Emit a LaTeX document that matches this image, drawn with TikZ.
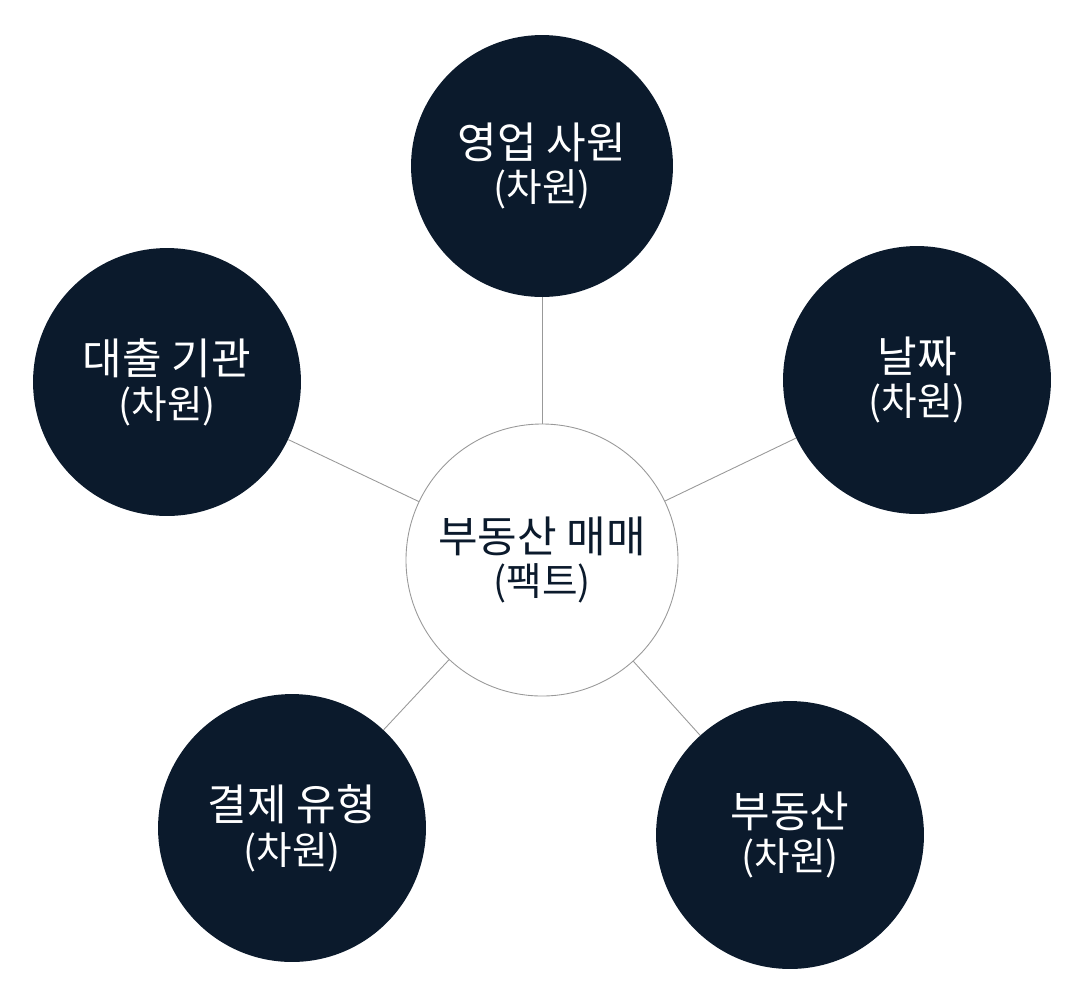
\documentclass[tikz,border=0pt]{standalone}
\usepackage{fontspec}
\newfontfamily\kr{Noto Sans CJK KR}
\definecolor{navy}{HTML}{0B1A2C}
\newcommand{\ttl}[2]{#1\\{\fontsize{22}{25}\selectfont #2}}
\begin{document}
\begin{tikzpicture}[x=0.02cm,y=-0.02cm,
  dim/.style={circle,fill=navy,draw=none,minimum size=#1*0.04cm,inner sep=0pt,text=white,align=center,font=\kr\fontsize{24.5}{25}\selectfont},
  fact/.style={circle,fill=white,draw=gray!80,line width=0.5pt,minimum size=272*0.02cm,inner sep=0pt,text=navy,align=center,font=\kr\fontsize{24.5}{25}\selectfont},
  link/.style={draw=gray!80,line width=0.5pt}]
\useasboundingbox (0,0) rectangle (1084,992);
\node[fact] (c) at (542,560) {\ttl{부동산 매매}{(팩트)}};
\node[dim=131] (t) at (542,166) {\ttl{영업 사원}{(차원)}};
\node[dim=134] (l) at (167,382) {\ttl{대출 기관}{(차원)}};
\node[dim=134] (r) at (917,380) {\ttl{날짜}{(차원)}};
\node[dim=134] (bl) at (292,828) {\ttl{결제 유형}{(차원)}};
\node[dim=134] (br) at (790,835) {\ttl{부동산}{(차원)}};
\foreach \n in {t,l,r,bl,br} \draw[link] (c) -- (\n);
\end{tikzpicture}
\end{document}
